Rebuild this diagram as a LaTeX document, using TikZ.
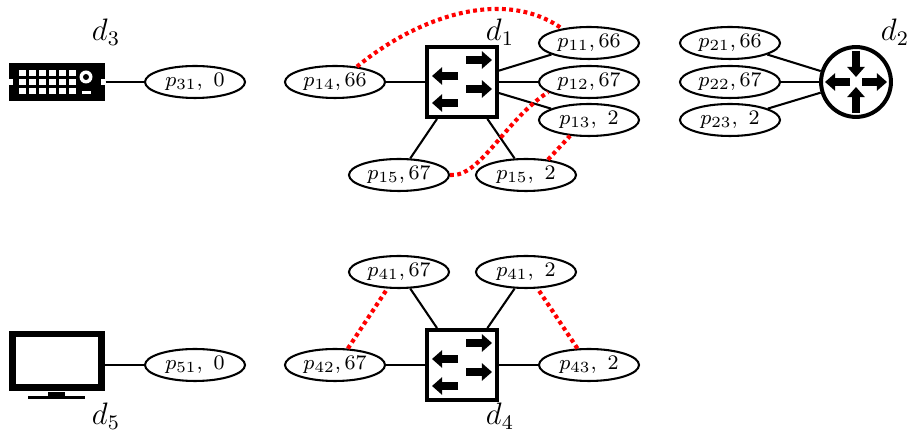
\documentclass[tikz,border=0pt]{standalone}
\usepackage{amssymb}
\usepackage{amsmath}
\usepackage{tikz}
\usetikzlibrary{shapes.geometric,arrows.meta}
\tikzset{
port/.style={draw,ellipse,line width=0.8pt,minimum width=1.36cm,minimum height=0.435cm,inner sep=0pt,font=\footnotesize},
devlabel/.style={font=\large,inner sep=0pt},
link/.style={line width=0.8pt},
conflict/.style={red,line width=1.6pt,dash pattern=on 1.5pt off 1.3pt},
blockarrow/.style={line width=3pt,-{Triangle[length=3.9pt,width=6.6pt]}},
switchbox/.style={draw,line width=1.55pt,minimum size=0.95cm,inner sep=0pt},
routerbox/.style={draw,circle,line width=1.55pt,minimum size=0.95cm,inner sep=0pt},
switchicon/.pic={
\foreach \y in {-22,7}
\draw[blockarrow] (4,\y) -- (30,\y);
\foreach \y in {-6,21}
\draw[blockarrow] (-4,\y) -- (-30,\y);
},
routericon/.pic={
\draw[blockarrow] (0,-31) -- (0,-5);
\draw[blockarrow] (0,31) -- (0,5);
\draw[blockarrow] (-6,0) -- (-31,0);
\draw[blockarrow] (6,0) -- (31,0);
}
}
\begin{document}
\begin{tikzpicture}[x=0.0136cm,y=-0.0136cm]
\useasboundingbox (0,0) rectangle (909,430);

\node[fill=black,minimum width=1.306cm,minimum height=0.517cm,inner sep=0pt] (dev3) at (57,82) {};
\fill[white] (9,79) rectangle (13,85);
\fill[white] (101,79) rectangle (105,85);
\foreach \x in {19,29,39,49,59,69}
\foreach \y in {70,79,88}
\fill[white] (\x,\y) rectangle ++(6.5,6);
\fill[white] (86,77) circle (6.5);
\fill[black] (86,77) circle (3);
\fill[white] (82,91) rectangle (91,94);
\node[port] (p31) at (195,82) {$p_{31},\ 0$};
\node[devlabel] (d3) at (106,32) {$d_3$};
\draw[link] (dev3) -- (p31);

\node[switchbox] (sw1) at (462,82) {};
\pic at (462,82) {switchicon};
\node[devlabel] (d1) at (500,32) {$d_1$};
\node[port] (p14) at (335,82) {$p_{14},66$};
\node[port] (p11) at (589,43) {$p_{11},66$};
\node[port] (p12) at (589,82) {$p_{12},67$};
\node[port] (p13) at (589,120) {$p_{13},\ 2$};
\node[port] (p15a) at (399,175) {$p_{15},67$};
\node[port] (p15b) at (526,175) {$p_{15},\ 2$};
\foreach \p in {p14,p11,p12,p13,p15a,p15b}
\draw[link] (sw1) -- (\p);

\node[routerbox] (rt2) at (856,82) {};
\pic at (856,82) {routericon};
\node[devlabel] (d2) at (895,32) {$d_2$};
\node[port] (p21) at (730,43) {$p_{21},66$};
\node[port] (p22) at (730,82) {$p_{22},67$};
\node[port] (p23) at (730,120) {$p_{23},\ 2$};
\foreach \p in {p21,p22,p23}
\draw[link] (rt2) -- (\p);

\node[draw,line width=2.7pt,minimum width=1.21cm,minimum height=0.734cm,inner sep=0pt] (mon5) at (57,361) {};
\fill[black] (48,392) rectangle (65,397);
\fill[black] (28,396) rectangle (85,399);
\node[port] (p51) at (195,365) {$p_{51},\ 0$};
\node[devlabel] (d5) at (106,416) {$d_5$};
\draw[link] (mon5.east |- p51) -- (p51);

\node[switchbox] (sw4) at (462,365) {};
\pic at (462,365) {switchicon};
\node[devlabel] (d4) at (500,416) {$d_4$};
\node[port] (p41a) at (399,272) {$p_{41},67$};
\node[port] (p41b) at (526,272) {$p_{41},\ 2$};
\node[port] (p42) at (335,365) {$p_{42},67$};
\node[port] (p43) at (589,365) {$p_{43},\ 2$};
\foreach \p in {p41a,p41b,p42,p43}
\draw[link] (sw4) -- (\p);

\draw[conflict] (p14.35) .. controls (420,15) and (505,-12) .. (p11.152);
\draw[conflict] (p15a.east) .. controls (480,178) and (505,120) .. (p12.194);
\draw[conflict] (p15b.35) -- (p13.-140);
\draw[conflict] (p42.52) -- (p41a.-125);
\draw[conflict] (p43.125) -- (p41b.-55);
\end{tikzpicture}
\end{document}
